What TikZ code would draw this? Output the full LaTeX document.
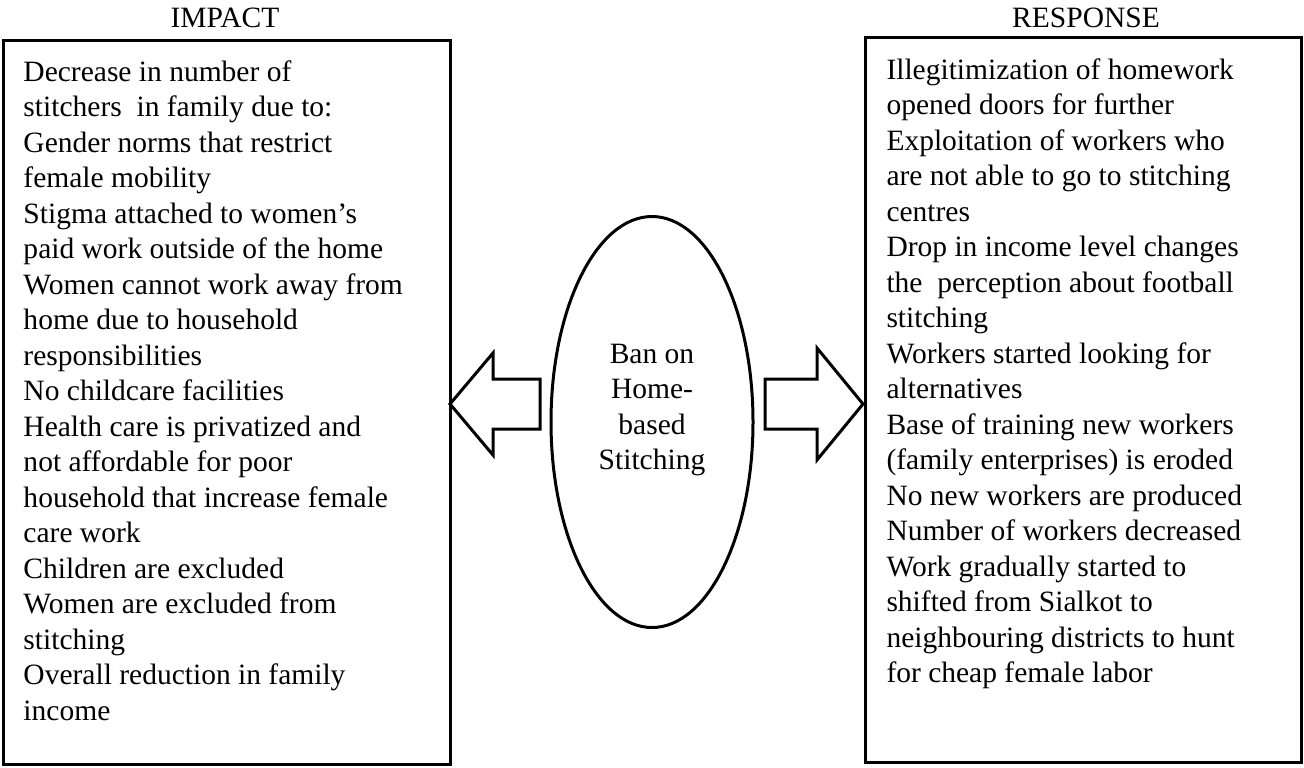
\documentclass[tikz,border=0pt]{standalone}
\usepackage{fontspec}
\setmainfont{Liberation Serif}
\usetikzlibrary{%
  positioning,% wg. " of "
  shapes.geometric% wg. ellipse
}

\begin{document}
\begin{tikzpicture}[
  x=0.5pt, y=-0.5pt,
  font=\fontsize{14.75}{17.75}\selectfont,
  line width=1.5pt,
  panel/.style={draw, rectangle, inner sep=0pt, anchor=north west},
  listtext/.style={align=left, inner sep=0pt, anchor=north west},
  blockarrow/.style={draw, line join=miter},
]
\useasboundingbox (0,0) rectangle (1304,767);

% the two boxes
\node[panel, minimum width=223.5pt, minimum height=362pt] (impact) at (2,39) {};
\node[panel, minimum width=218pt, minimum height=362.5pt] (response) at (864,36) {};

\node[anchor=base, inner sep=0pt] (impacthead) at (225,27) {IMPACT};
\node[anchor=base, inner sep=0pt] (responsehead) at (1086,27) {RESPONSE};

\node[listtext] (impacttxt) at (22,59) {%
Decrease in number of\\
stitchers~ in family due to:\\
Gender norms that restrict\\
female mobility\\
Stigma attached to women’s\\
paid work outside of the home\\
Women cannot work away from\\
home due to household\\
responsibilities\\
No childcare facilities\\
Health care is privatized and\\
not affordable for poor\\
household that increase female\\
care work\\
Children are excluded\\
Women are excluded from\\
stitching\\
Overall reduction in family\\
income};

\node[listtext] (responsetxt) at (885,57) {%
Illegitimization of homework\\
opened doors for further\\
Exploitation of workers who\\
are not able to go to stitching\\
centres\\
Drop in income level changes\\
the~ perception about football\\
stitching\\
Workers started looking for\\
alternatives\\
Base of training new workers\\
(family enterprises) is eroded\\
No new workers are produced\\
Number of workers decreased\\
Work gradually started to\\
shifted from Sialkot to\\
neighbouring districts to hunt\\
for cheap female labor};

% the ban in the middle
\node[draw, ellipse, inner sep=0pt, minimum width=101pt, minimum height=205.5pt] (ban) at (652,422) {};
\node[align=center, inner sep=0pt] (bantxt) at (652,410) {Ban on\\Home-\\based\\Stitching};

% block arrows
\coordinate (ltip) at (450,404);
\coordinate (rtip) at (863,404);
\draw[blockarrow] (ltip) -- ++(43,-51) -- ++(0,26) -- ++(47,0) -- ++(0,50)
  -- ++(-47,0) -- ++(0,26) -- cycle;
\draw[blockarrow] (rtip) -- ++(-46,-56) -- ++(0,31) -- ++(-52,0) -- ++(0,50)
  -- ++(52,0) -- ++(0,31) -- cycle;

\end{tikzpicture}
\end{document}
